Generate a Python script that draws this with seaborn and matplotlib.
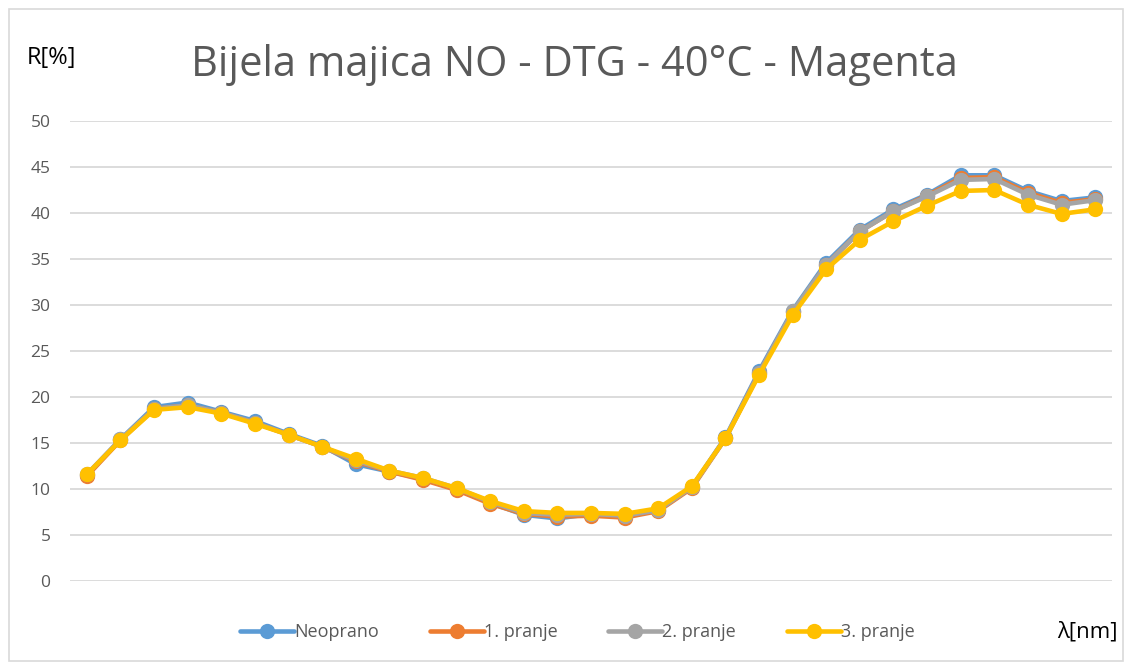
import pandas as pd
import matplotlib.pyplot as plt
import seaborn as sns
from matplotlib.patches import FancyBboxPatch

# Wavelengths (nm) and reflectance curves R[%]
wavelength = list(range(400, 710, 10))
neoprano = [11.5, 15.4, 18.9, 19.4, 18.4, 17.4, 16.0, 14.7, 12.7, 11.9, 11.1, 10.0, 8.5, 7.2, 6.8, 7.3,
            7.1, 7.7, 10.2, 15.6, 22.8, 29.4, 34.6, 38.2, 40.4, 42.0, 44.1, 44.1, 42.4, 41.3, 41.7]
pranje_1 = [11.4, 15.3, 18.7, 19.1, 18.3, 17.2, 15.9, 14.6, 13.0, 11.9, 11.0, 9.9, 8.4, 7.3, 7.0, 7.1,
            6.9, 7.6, 10.1, 15.5, 22.6, 29.2, 34.4, 38.0, 40.2, 41.9, 43.8, 43.9, 42.2, 41.1, 41.5]
pranje_2 = [11.6, 15.4, 18.7, 19.1, 18.3, 17.2, 15.9, 14.6, 13.1, 12.0, 11.2, 10.1, 8.6, 7.4, 7.2, 7.3,
            7.1, 7.7, 10.2, 15.5, 22.6, 29.3, 34.4, 38.0, 40.2, 41.8, 43.6, 43.7, 42.0, 40.9, 41.4]
pranje_3 = [11.6, 15.3, 18.6, 18.9, 18.2, 17.1, 15.9, 14.6, 13.3, 12.0, 11.2, 10.1, 8.7, 7.6, 7.4, 7.4,
            7.3, 7.9, 10.3, 15.5, 22.4, 28.9, 33.9, 37.1, 39.1, 40.8, 42.4, 42.5, 40.9, 39.9, 40.4]
series_names = ['Neoprano', '1. pranje', '2. pranje', '3. pranje']
colors = ['#5B9BD5', '#ED7D31', '#A5A5A5', '#FFC000']

df = pd.DataFrame({'wl': wavelength, 'Neoprano': neoprano, '1. pranje': pranje_1,
                   '2. pranje': pranje_2, '3. pranje': pranje_3})
long_df = df.melt(id_vars='wl', var_name='serija', value_name='R')

sns.set_style('white')
plt.rcParams['font.family'] = ['Open Sans', 'DejaVu Sans']

fig = plt.figure(figsize=(11.3, 6.66), dpi=100)
ax = fig.add_axes([0.062, 0.1276, 0.922, 0.6907])

# chart border
fig.patches.append(FancyBboxPatch((0.008, 0.008), 0.986, 0.978, boxstyle='square,pad=0',
                                  transform=fig.transFigure, fill=False, edgecolor='#d9d9d9', lw=1.2))

sns.lineplot(data=long_df, x='wl', y='R', hue='serija', hue_order=series_names,
             palette=colors, marker='o', markersize=11, markeredgewidth=0, linewidth=3.3,
             ax=ax, legend=True)

ax.set_xlim(395, 705)
ax.set_ylim(0, 50)
ax.set_yticks(range(0, 55, 5))
ax.set_xticks([])
ax.grid(axis='y', color='#d9d9d9', linewidth=1.3)
for s in ax.spines.values():
    s.set_visible(False)
ax.tick_params(axis='y', labelsize=12.5, colors='#595959', length=0, pad=14)
ax.set_xlabel('')
ax.set_ylabel('')

handles, labels = ax.get_legend_handles_labels()
ax.legend_.remove()
fig.legend(handles, labels, loc='center', bbox_to_anchor=(0.511, 0.051), ncol=4, frameon=False,
           fontsize=13, handlelength=3.0, handletextpad=0.0, columnspacing=2.8, labelcolor='#595959')

fig.text(0.508, 0.902, 'Bijela majica NO - DTG - 40°C - Magenta', ha='center', va='center',
         fontsize=30, color='#595959')
fig.text(0.024, 0.913, 'R[%]', ha='left', va='center', fontsize=17, color='black')
fig.text(0.989, 0.051, 'λ[nm]', ha='right', va='center', fontsize=16, color='black')

plt.savefig('out.png', dpi=100)
